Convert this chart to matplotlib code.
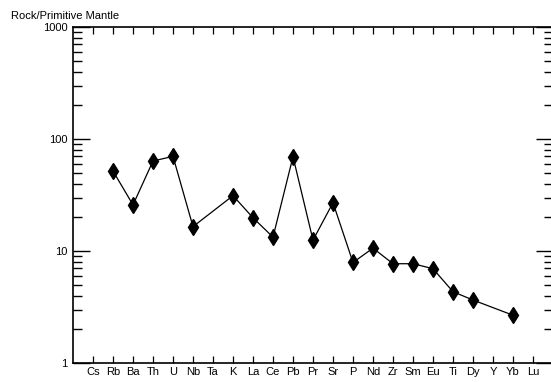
import numpy as np
import matplotlib
matplotlib.use("Agg")
import matplotlib.pyplot as plt
from matplotlib.ticker import LogLocator, NullFormatter, FixedLocator

# Spider diagram: rock / primitive mantle
elements = ["Cs", "Rb", "Ba", "Th", "U", "Nb", "Ta", "K", "La", "Ce", "Pb",
            "Pr", "Sr", "P", "Nd", "Zr", "Sm", "Eu", "Ti", "Dy", "Y", "Yb", "Lu"]
values = [np.nan, 51.8, 25.8, 63.6, 70.0, 16.5, np.nan, 31.2, 19.8, 13.3, 69.5,
          12.5, 27.0, 7.9, 10.6, 7.7, 7.7, 6.95, 4.33, 3.65, np.nan, 2.67, np.nan]
ytick_labels = ["1", "10", "100", "1000"]

plt.rcParams["font.family"] = ["Liberation Sans", "DejaVu Sans"]

W, H = 551, 382
fig = plt.figure(figsize=(W / 100, H / 100), dpi=100)
ax = fig.add_axes([73 / W, 19 / H, 480 / W, 336 / H])

x = np.arange(len(elements))
vals = np.array(values)
ok = ~np.isnan(vals)
ax.plot(x[ok], vals[ok], color="black", linewidth=0.9,
        marker="d", markersize=8, markerfacecolor="black", markeredgecolor="black")

ax.set_yscale("log")
ax.set_ylim(1, 1000)
ax.set_xlim(-1, 23)

ax.yaxis.set_major_locator(FixedLocator([1, 10, 100, 1000]))
ax.set_yticklabels(ytick_labels)
ax.yaxis.set_minor_locator(LogLocator(base=10, subs=np.arange(2, 10)))
ax.yaxis.set_minor_formatter(NullFormatter())
ax.set_xticks(x)
ax.set_xticklabels(elements)

ax.tick_params(axis="y", which="major", direction="in", length=12, width=1.0,
               left=True, right=True, labelsize=8, pad=4)
ax.tick_params(axis="y", which="minor", direction="in", length=6.5, width=1.0,
               left=True, right=True)
ax.tick_params(axis="x", which="major", direction="in", length=5, width=0.9,
               top=True, bottom=True, labelsize=8, pad=3)
for s in ax.spines.values():
    s.set_linewidth(1.2)

fig.text(11 / W, 1 - 19 / H, "Rock/Primitive Mantle", fontsize=8, ha="left", va="baseline")

fig.savefig("out.png", dpi=100)
